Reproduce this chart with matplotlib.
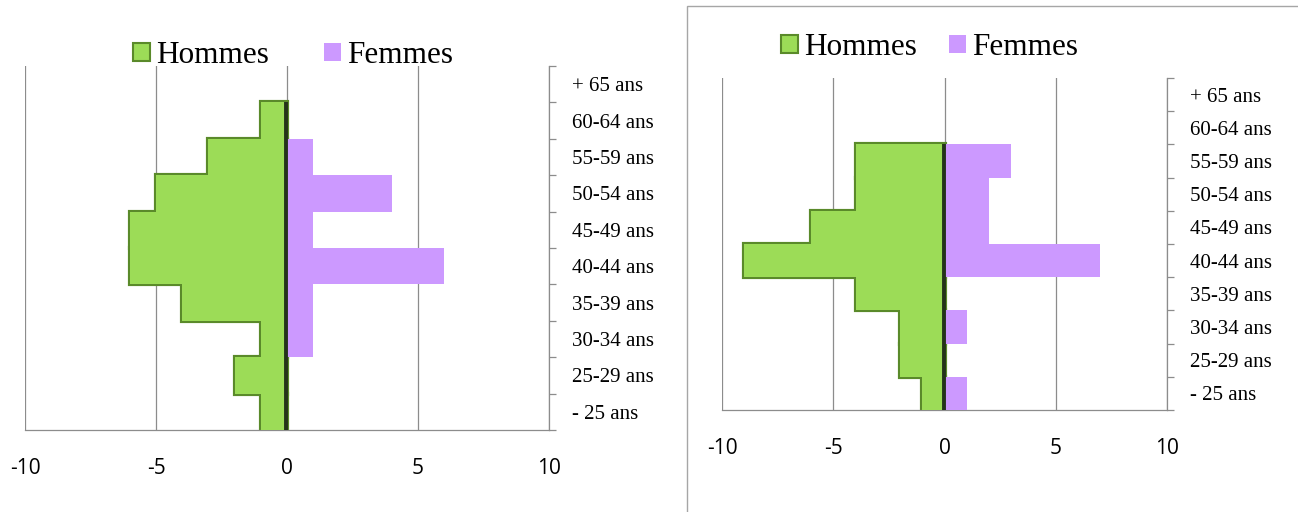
import numpy as np
import matplotlib
matplotlib.use("Agg")
import matplotlib.pyplot as plt
from matplotlib.patches import Rectangle

# Age groups, bottom to top
categories = ["- 25 ans", "25-29 ans", "30-34 ans", "35-39 ans", "40-44 ans",
              "45-49 ans", "50-54 ans", "55-59 ans", "60-64 ans", "+ 65 ans"]

# Left pyramid
hommes_left = [-1, -2, -1, -4, -6, -6, -5, -3, -1, 0]
femmes_left = [0, 0, 1, 1, 6, 1, 4, 1, 0, 0]

# Right pyramid
hommes_right = [-1, -2, -2, -4, -9, -6, -4, -4, 0, 0]
femmes_right = [1, 0, 1, 0, 7, 2, 2, 3, 0, 0]

x_ticks = [-10, -5, 0, 5, 10]

GREEN = "#9CDC57"
GREEN_EDGE = "#5A8A2A"
GREEN_DARK = "#24331A"
PURPLE = "#CC99FF"
GRAY = "#8C8C8C"
SERIF = "Liberation Serif"
SANS = "Open Sans"


def draw_pyramid(ax, hommes, femmes, legend_pos, colspacing):
    y = np.arange(len(categories))
    hommes = np.asarray(hommes)
    femmes = np.asarray(femmes)
    mh = hommes != 0
    mf = femmes != 0

    for xv in x_ticks:
        ax.axvline(xv, color=GRAY, lw=0.9, zorder=0)

    # outline layer first, then the fill on top: only the outer edge of the
    # stacked bars stays visible (no lines between neighbouring bars)
    ax.barh(y[mh], hommes[mh], height=1.0, color=GREEN_EDGE,
            edgecolor=GREEN_EDGE, linewidth=3.0, zorder=2)
    ax.barh(y[mh], hommes[mh], height=1.0, color=GREEN, edgecolor="none",
            label="Hommes", zorder=3)
    ax.barh(y[mf], femmes[mf], height=1.0, color=PURPLE, edgecolor="none",
            label="Femmes", zorder=3)

    # dark shadow along the zero line where men's bars exist
    if mh.any():
        ax.plot([-0.02, -0.02], [-0.5, y[mh].max() + 0.5], color=GREEN_DARK,
                lw=2.8, solid_capstyle="butt", zorder=4)

    ax.set_xlim(-10, 10)
    ax.set_ylim(-0.5, len(categories) - 0.5)

    ax.set_xticks(x_ticks)
    ax.set_xticklabels([str(v) for v in x_ticks], family=SANS, fontsize=15)
    ax.tick_params(axis="x", length=0, pad=20)

    ax.yaxis.tick_right()
    ax.set_yticks(y)
    ax.set_yticklabels(categories, family=SERIF, fontsize=15)
    ax.set_yticks(np.arange(len(categories) + 1) - 0.5, minor=True)
    ax.tick_params(axis="y", which="major", length=0, pad=16.5)
    ax.tick_params(axis="y", which="minor", length=5, color=GRAY, width=0.9)

    for side in ["top", "left"]:
        ax.spines[side].set_visible(False)
    for side in ["bottom", "right"]:
        ax.spines[side].set_color(GRAY)
        ax.spines[side].set_linewidth(0.9)

    leg = ax.legend(loc="center", bbox_to_anchor=legend_pos, ncol=2,
                    frameon=False, prop={"family": SERIF, "size": 22.5},
                    handlelength=0.54, handleheight=0.54, handletextpad=0.2,
                    columnspacing=colspacing, borderaxespad=0, borderpad=0)
    leg.legend_handles[0].set_edgecolor(GREEN_EDGE)
    leg.legend_handles[0].set_linewidth(1.5)


fig = plt.figure(figsize=(12.98, 5.12), dpi=100)

ax1 = fig.add_axes([25 / 1298, 82 / 512, 524 / 1298, 364 / 512])
draw_pyramid(ax1, hommes_left, femmes_left, (0.511, 1.0285), 1.76)

ax2 = fig.add_axes([722 / 1298, 102 / 512, 445 / 1298, 332 / 512])
draw_pyramid(ax2, hommes_right, femmes_right, (0.466, 1.092), 1.02)

# chart-area border of the right chart
fig.patches.append(Rectangle((687 / 1298, -0.2), 1.0, 1.2 - 6 / 512,
                             transform=fig.transFigure, fill=False,
                             edgecolor="#A6A6A6", lw=1.0))

fig.savefig("out.png", dpi=100)
